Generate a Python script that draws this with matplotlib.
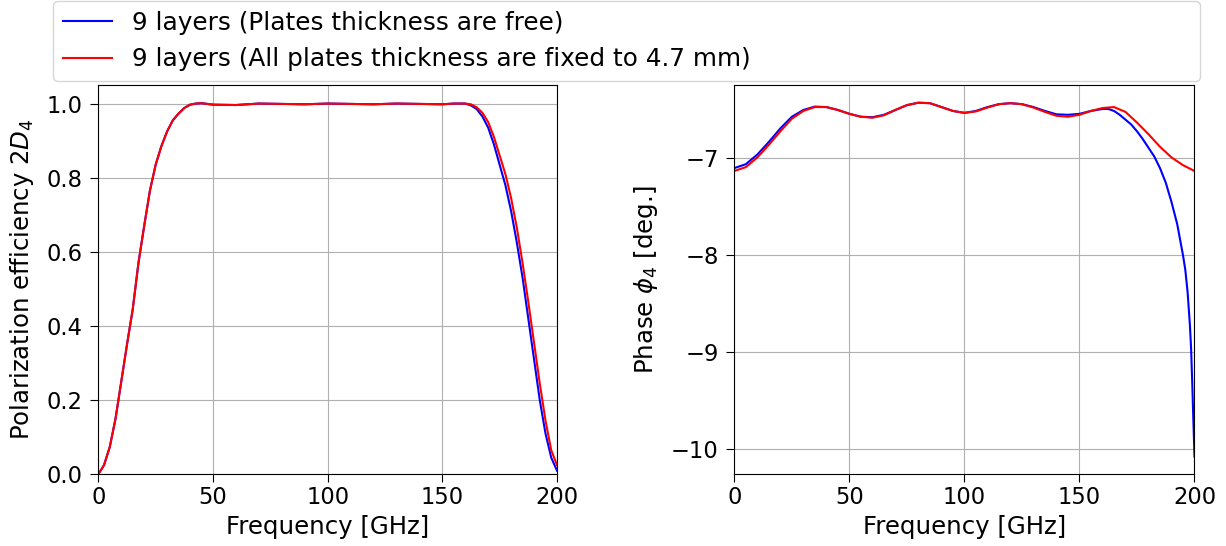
import matplotlib
matplotlib.use("Agg")
import matplotlib.pyplot as plt

plt.rcParams["font.size"] = 17.6
plt.rcParams["xtick.labelsize"] = 16.3
plt.rcParams["ytick.labelsize"] = 16.3
plt.rcParams["xtick.major.size"] = 5.5
plt.rcParams["ytick.major.size"] = 5.5
plt.rcParams["xtick.major.pad"] = 3.0
plt.rcParams["ytick.major.pad"] = 5.7

# Frequency grids [GHz]
freq_eff = [0, 2.5, 5, 7.5, 10, 12.5, 15, 17.5, 20, 22.5, 25, 27.5, 30, 32.5,
            35, 37.5, 40, 42.5, 45, 50, 60, 70, 80, 90, 100, 110, 120, 130,
            140, 150, 155, 160, 162.5, 165, 167.5, 170, 172.5, 175, 177.5,
            180, 182.5, 185, 187.5, 190, 192.5, 195, 197.5, 200]

# Polarization efficiency 2D_4
eff_free = [0.0, 0.025, 0.074, 0.15, 0.25, 0.35, 0.445, 0.57, 0.67, 0.765,
            0.835, 0.885, 0.925, 0.955, 0.973, 0.988, 0.997, 1.0, 1.001,
            0.997, 0.996, 1.0, 0.999, 0.998, 1.0, 0.999, 0.998, 1.0, 0.999,
            0.998, 1.0, 1.0, 0.995, 0.985, 0.965, 0.935, 0.89, 0.835, 0.78,
            0.71, 0.625, 0.53, 0.42, 0.31, 0.2, 0.11, 0.045, 0.01]
eff_fixed = [0.0, 0.025, 0.074, 0.15, 0.25, 0.35, 0.445, 0.57, 0.67, 0.765,
             0.835, 0.885, 0.925, 0.955, 0.973, 0.988, 0.997, 1.0, 1.001,
             0.997, 0.996, 1.0, 0.999, 0.998, 1.0, 0.999, 0.998, 1.0, 0.999,
             0.998, 1.0, 1.0, 0.998, 0.99, 0.975, 0.95, 0.91, 0.86, 0.81,
             0.745, 0.665, 0.57, 0.465, 0.355, 0.245, 0.145, 0.065, 0.025]

# Phase phi_4 [deg.]
freq_phase_free = [0, 5, 10, 15, 20, 25, 30, 35, 40, 45, 50, 55, 60, 65, 70,
                   75, 80, 85, 90, 95, 100, 105, 110, 115, 120, 125, 130, 135,
                   140, 145, 150, 155, 160, 162.5, 165, 167.5, 170, 172.5, 175,
                   177.5, 180, 182.5, 185, 187.5, 190, 192.5, 195, 196, 197,
                   198, 198.5, 199, 199.5, 200]
phase_free = [-7.10, -7.06, -6.96, -6.83, -6.69, -6.57, -6.50, -6.465, -6.47,
              -6.50, -6.54, -6.57, -6.575, -6.55, -6.50, -6.45, -6.425, -6.43,
              -6.47, -6.51, -6.53, -6.51, -6.47, -6.44, -6.43, -6.44, -6.47,
              -6.51, -6.545, -6.55, -6.54, -6.51, -6.49, -6.49, -6.51, -6.55,
              -6.60, -6.65, -6.72, -6.80, -6.89, -6.98, -7.10, -7.25, -7.45,
              -7.68, -8.00, -8.15, -8.38, -8.72, -8.95, -9.30, -9.70, -10.08]

freq_phase_fixed = [0, 5, 10, 15, 20, 25, 30, 35, 40, 45, 50, 55, 60, 65, 70,
                    75, 80, 85, 90, 95, 100, 105, 110, 115, 120, 125, 130, 135,
                    140, 145, 150, 155, 160, 165, 170, 175, 180, 185, 190, 195,
                    200]
phase_fixed = [-7.13, -7.09, -6.99, -6.86, -6.72, -6.59, -6.51, -6.47, -6.47,
               -6.50, -6.54, -6.57, -6.58, -6.555, -6.50, -6.45, -6.425,
               -6.43, -6.47, -6.51, -6.53, -6.515, -6.475, -6.44, -6.43,
               -6.44, -6.475, -6.52, -6.56, -6.57, -6.55, -6.51, -6.48,
               -6.47, -6.52, -6.63, -6.75, -6.88, -6.99, -7.07, -7.13]

phase_ticks = [-10, -9, -8, -7]

label_free = "9 layers (Plates thickness are free)"
label_fixed = "9 layers (All plates thickness are fixed to 4.7 mm)"

fig = plt.figure(figsize=(12.26, 5.46), dpi=100)
ax1 = fig.add_axes([0.0802, 0.1313, 0.3741, 0.7130])
ax2 = fig.add_axes([0.5990, 0.1313, 0.3753, 0.7130])

l1, = ax1.plot(freq_eff, eff_free, color="blue", lw=1.5, label=label_free)
l2, = ax1.plot(freq_eff, eff_fixed, color="red", lw=1.5, label=label_fixed)
ax1.set_xlim(0, 200)
ax1.set_ylim(0, 1.05)
ax1.set_xlabel("Frequency [GHz]")
ax1.set_ylabel("Polarization efficiency $2D_4$", labelpad=8)
ax1.grid(True)

ax2.plot(freq_phase_free, phase_free, color="blue", lw=1.5)
ax2.plot(freq_phase_fixed, phase_fixed, color="red", lw=1.5)
ax2.set_xlim(0, 200)
ax2.set_yticks(phase_ticks)
ax2.set_xlabel("Frequency [GHz]")
ax2.set_ylabel(r"Phase $\phi_4$ [deg.]", labelpad=8)
ax2.grid(True)

fig.legend(handles=[l1, l2], loc="upper left",
           bbox_to_anchor=(0.043, 0.998, 0.9358, 0.0), mode="expand",
           borderaxespad=0.0, fontsize=17.8)

fig.savefig("out.png", dpi=100)
